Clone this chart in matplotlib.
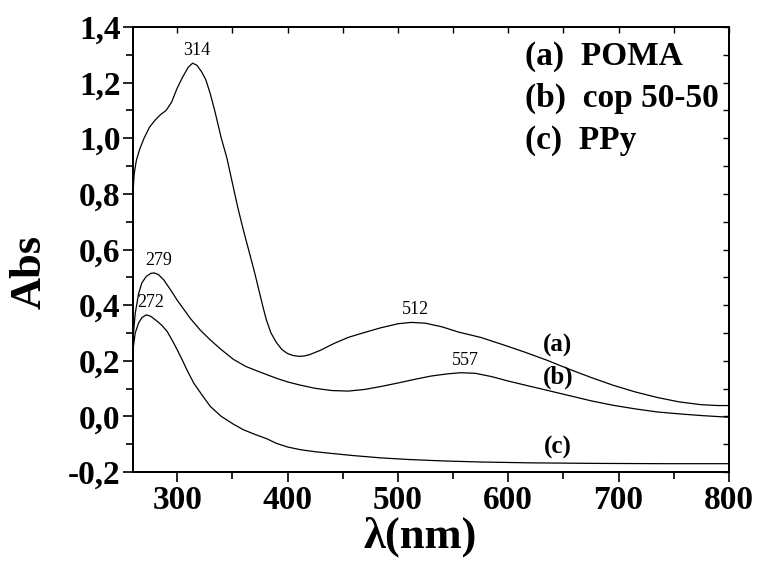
import numpy as np
import matplotlib
matplotlib.use('Agg')
import matplotlib.pyplot as plt
from matplotlib.ticker import MultipleLocator, FuncFormatter

plt.rcParams.update({'font.family': 'Liberation Serif',
                     'axes.linewidth': 1.2})

# UV-Vis spectra (wavelength in nm, absorbance)
wl_poma = [260, 261, 263, 266, 270, 275, 280, 285, 290, 295, 300, 305, 310, 314,
           318, 322, 326, 330, 334, 340, 345, 350, 355, 360, 366, 370, 374, 378, 381,
           385, 390, 395, 400, 405, 410, 415, 420, 430, 442, 455, 470, 484, 500, 512,
           525, 540, 555, 575, 595, 615, 635, 655, 675, 695, 715, 735, 755, 775, 790, 800]
abs_poma = [0.80, 0.87, 0.92, 0.96, 1.00, 1.04, 1.065, 1.085, 1.10, 1.13, 1.18, 1.22,
            1.255, 1.27, 1.262, 1.24, 1.21, 1.16, 1.10, 1.00, 0.93, 0.84, 0.75, 0.67,
            0.58, 0.52, 0.455, 0.39, 0.345, 0.30, 0.265, 0.24, 0.226, 0.219, 0.216,
            0.217, 0.222, 0.238, 0.262, 0.284, 0.302, 0.318, 0.333, 0.338, 0.335,
            0.322, 0.303, 0.284, 0.258, 0.231, 0.202, 0.170, 0.140, 0.112, 0.088,
            0.068, 0.052, 0.042, 0.039, 0.039]

wl_cop = [260, 262, 265, 268, 272, 276, 279, 283, 288, 294, 300, 306, 312, 321, 330,
          340, 351, 362, 372, 380, 390, 400, 412, 425, 440, 455, 470, 484, 500, 515,
          530, 545, 557, 570, 585, 600, 620, 635, 655, 675, 695, 715, 735, 755, 775, 800]
abs_cop = [0.28, 0.37, 0.44, 0.48, 0.503, 0.514, 0.516, 0.51, 0.49, 0.455, 0.418,
           0.385, 0.352, 0.31, 0.275, 0.24, 0.205, 0.18, 0.164, 0.152, 0.137, 0.124,
           0.112, 0.101, 0.093, 0.091, 0.097, 0.107, 0.12, 0.133, 0.145, 0.153, 0.157,
           0.155, 0.143, 0.127, 0.108, 0.094, 0.075, 0.056, 0.040, 0.027, 0.016,
           0.009, 0.003, -0.003]

wl_ppy = [260, 262, 265, 268, 272, 276, 281, 286, 291, 296, 300, 305, 309, 315, 322,
          330, 340, 351, 360, 370, 381, 390, 400, 412, 425, 442, 460, 484, 510, 540,
          575, 620, 680, 740, 800]
abs_ppy = [0.24, 0.30, 0.335, 0.355, 0.365, 0.36, 0.345, 0.328, 0.305, 0.27, 0.24,
           0.20, 0.166, 0.12, 0.08, 0.036, 0.0, -0.028, -0.048, -0.064, -0.08, -0.097,
           -0.11, -0.12, -0.127, -0.134, -0.141, -0.149, -0.155, -0.16, -0.164,
           -0.167, -0.169, -0.170, -0.170]

# peak positions labelled on the curves
peaks = [(314, wl_poma, abs_poma), (512, wl_poma, abs_poma),
         (279, wl_cop, abs_cop), (557, wl_cop, abs_cop),
         (272, wl_ppy, abs_ppy)]

fig = plt.figure(figsize=(7.57, 5.61), dpi=100)
ax = fig.add_axes([0.1757, 0.1586, 0.7873, 0.7933])

for wl, ab in [(wl_poma, abs_poma), (wl_cop, abs_cop), (wl_ppy, abs_ppy)]:
    ax.plot(wl, ab, color='black', lw=0.9)

for p, wl, ab in peaks:
    yp = np.interp(p, wl, ab)
    ax.text(p + 4, yp + 0.015, str(p), ha='center', va='bottom', fontsize=13)

# curve tags
ax.text(645, 0.256, '(a)', ha='center', va='center', fontsize=18, fontweight='bold')
ax.text(645, 0.142, '(b)', ha='center', va='center', fontsize=18, fontweight='bold')
ax.text(645, -0.11, '(c)', ha='center', va='center', fontsize=18, fontweight='bold')

for y, s in [(0.933, '(a)  POMA'), (0.840, '(b)  cop 50-50'), (0.746, '(c)  PPy')]:
    ax.text(0.658, y, s, transform=ax.transAxes, ha='left', va='center',
            fontsize=24, fontweight='bold')

ax.set_xlim(260, 800)
ax.set_ylim(-0.2, 1.4)
ax.xaxis.set_major_locator(MultipleLocator(100))
ax.xaxis.set_minor_locator(MultipleLocator(50))
ax.yaxis.set_major_locator(MultipleLocator(0.2))
ax.yaxis.set_minor_locator(MultipleLocator(0.1))
ax.yaxis.set_major_formatter(FuncFormatter(
    lambda v, _: f'{v:.1f}'.replace('.', ',').replace('-0,0', '0,0')))
ax.tick_params(which='both', direction='out', width=1.2, top=False, right=False)
ax.tick_params(which='major', length=7, labelsize=24, pad=2)
ax.tick_params(which='minor', length=5)
for lab in ax.get_xticklabels() + ax.get_yticklabels():
    lab.set_fontweight('bold')

# short inward ticks on the right and top edges
axr = ax.twinx()
axr.set_ylim(ax.get_ylim())
axr.yaxis.set_major_locator(MultipleLocator(0.1))
axr.tick_params(direction='in', length=4, width=1.0, labelright=False)
axt = ax.twiny()
axt.set_xlim(ax.get_xlim())
axt.xaxis.set_major_locator(MultipleLocator(50))
axt.tick_params(direction='in', length=4, width=1.0, labeltop=False)

ax.set_xlabel('λ(nm)', fontsize=32, fontweight='bold')
ax.xaxis.set_label_coords(0.4815, -0.1)
ax.set_ylabel('Abs', fontsize=32, fontweight='bold')
ax.yaxis.set_label_coords(-0.14, 0.449)

fig.savefig('out.png', dpi=100)
